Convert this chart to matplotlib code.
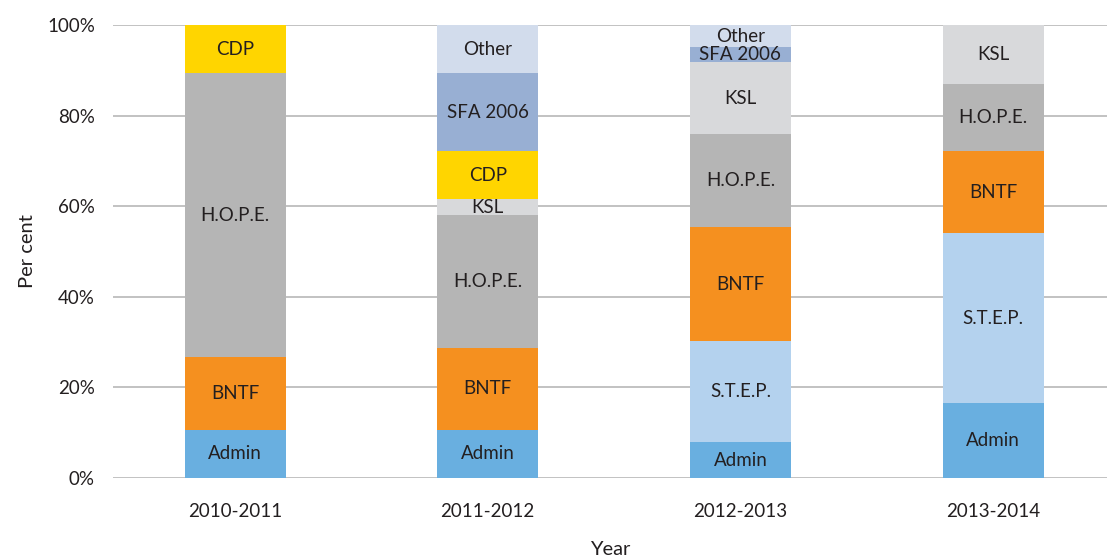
import numpy as np
import matplotlib
matplotlib.use("Agg")
import matplotlib.pyplot as plt

# -------------------------
# Data (per cent of total)
# -------------------------
years = ["2010-2011", "2011-2012", "2012-2013", "2013-2014"]

# stacking order bottom -> top
series = ["Admin", "S.T.E.P.", "BNTF", "H.O.P.E.", "KSL", "CDP", "SFA 2006", "Other"]

admin = [10.7, 10.7, 7.9, 16.5]
step = [0.0, 0.0, 22.3, 37.5]
bntf = [16.0, 18.0, 25.2, 18.1]
hope = [62.6, 29.3, 20.5, 14.8]
ksl = [0.0, 3.5, 15.9, 13.1]
cdp = [10.7, 10.6, 0.0, 0.0]
sfa = [0.0, 17.2, 3.3, 0.0]
other = [0.0, 10.7, 4.9, 0.0]

colors = {
    "Admin": "#69afe0",
    "S.T.E.P.": "#b4d2ee",
    "BNTF": "#f5901f",
    "H.O.P.E.": "#b5b5b5",
    "KSL": "#d8d9db",
    "CDP": "#ffd500",
    "SFA 2006": "#98afd3",
    "Other": "#d2dcec",
}

values = [admin, step, bntf, hope, ksl, cdp, sfa, other]

plt.rcParams["font.family"] = ["Lato", "DejaVu Sans"]
TEXT = "#231f20"

fig = plt.figure(figsize=(11.07, 5.58), dpi=100)
ax = fig.add_axes([113 / 1107, 80 / 558, (1107 - 113) / 1107, 453 / 558])

x = np.arange(len(years))
bottom = np.zeros(len(years))

for name, vals in zip(series, values):
    vals = np.array(vals)
    ax.bar(x, vals, width=0.40, bottom=bottom, color=colors[name], zorder=2)
    for i, v in enumerate(vals):
        if v > 0:
            ax.text(x[i], bottom[i] + v / 2, name, ha="center", va="center",
                    fontsize=13.5, color=TEXT, zorder=3)
    bottom += vals

ax.set_xlim(-0.483, 3.451)
ax.set_ylim(0, 100)
ax.set_yticks([0, 20, 40, 60, 80, 100])
ax.set_yticklabels([f"{t}%" for t in [0, 20, 40, 60, 80, 100]])
ax.set_xticks(x)
ax.set_xticklabels(years)

ax.yaxis.grid(True, color="#b8b8b8", linewidth=1.2, zorder=0)
ax.set_axisbelow(True)
for s in ax.spines.values():
    s.set_visible(False)
ax.tick_params(length=0, labelsize=13.5, colors=TEXT)
ax.tick_params(axis="x", pad=18)
ax.tick_params(axis="y", pad=13)

ax.set_xlabel("Year", fontsize=14.5, color=TEXT, labelpad=15)
ax.set_ylabel("Per cent", fontsize=14.5, color=TEXT, labelpad=8)

plt.savefig("out.png", dpi=100)
plt.close()
